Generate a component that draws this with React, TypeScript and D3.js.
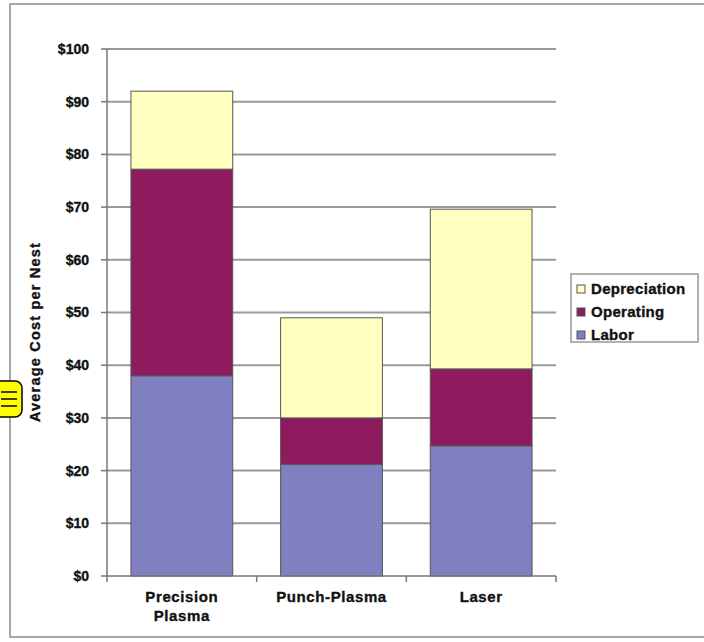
import React from "react";
import * as d3 from "d3";

const categories = ["Precision Plasma", "Punch-Plasma", "Laser"];
const categoryLines = [["Precision", "Plasma"], ["Punch-Plasma"], ["Laser"]];
const seriesNames = ["Labor", "Operating", "Depreciation"];
const labor = [38, 21.2, 24.7];
const operating = [39.2, 8.8, 14.6];
const depreciation = [14.8, 19, 30.3];
const yTicks = [0, 10, 20, 30, 40, 50, 60, 70, 80, 90, 100];
const colors = ["#8080C0", "#8E1B5E", "#FFFFC0"];
const legendOrder = ["Depreciation", "Operating", "Labor"];

export default function App() {
  const W = 704, H = 642;
  const left = 107, right = 556, top = 49, bottom = 576;
  const x = d3.scaleBand().domain(categories).range([left, right]).paddingInner(0.32).paddingOuter(0.16);
  const xOuter = d3.scaleBand().domain(categories).range([left, right]);
  const y = d3.scaleLinear().domain([0, 100]).range([bottom, top]);
  const table = categories.map((c, i) => ({ cat: c, Labor: labor[i], Operating: operating[i], Depreciation: depreciation[i] }));
  const stacked = d3.stack<any>().keys(seriesNames)(table);
  const font = "'Liberation Sans', Arial, sans-serif";
  const colorOf = (n: string) => colors[seriesNames.indexOf(n)];
  const textProps = { fontWeight: "bold", fill: "#111", stroke: "#111", strokeWidth: 0.35 } as any;
  return (
    <svg width={W} height={H} style={{ position: "absolute", left: 0, top: 0, background: "#fff" }} fontFamily={font}>
      <rect x={10} y={4} width={720} height={633} fill="#fff" stroke="#8a8a8a" strokeWidth={1.5} />
      {/* gridlines */}
      {yTicks.map((t) => (
        <g key={t}>
          {t > 0 && <line x1={left} x2={right} y1={y(t)} y2={y(t)} stroke="#999" strokeWidth={2} />}
          <line x1={left - 6} x2={left} y1={y(t)} y2={y(t)} stroke="#777" strokeWidth={1.5} />
          <text x={left - 18} y={y(t)} dy="0.35em" textAnchor="end" fontSize={14} {...textProps}>
            {"$" + t}
          </text>
        </g>
      ))}
      {/* bars */}
      {stacked.map((s) => (
        <g key={s.key}>
          {s.map((d: any, i: number) => (
            <rect
              key={i}
              x={x(categories[i])!}
              width={x.bandwidth()}
              y={y(d[1])}
              height={y(d[0]) - y(d[1])}
              fill={colorOf(s.key)}
              stroke="#555"
              strokeWidth={1}
            />
          ))}
        </g>
      ))}
      {/* axes */}
      <line x1={left} x2={left} y1={top} y2={bottom} stroke="#777" strokeWidth={1.5} />
      <line x1={left} x2={right} y1={bottom} y2={bottom} stroke="#777" strokeWidth={1.5} />
      {categories.map((c, i) => (
        <line key={"t" + i} x1={xOuter(c)!} x2={xOuter(c)!} y1={bottom} y2={bottom + 6} stroke="#777" strokeWidth={1.5} />
      ))}
      <line x1={right} x2={right} y1={bottom} y2={bottom + 6} stroke="#777" strokeWidth={1.5} />
      {categories.map((c, i) => (
        <text key={"c" + i} x={xOuter(c)! + xOuter.bandwidth() / 2} y={bottom + 26} textAnchor="middle" fontSize={15} letterSpacing={0.6} {...textProps}>
          {categoryLines[i].map((l, j) => (
            <tspan key={j} x={xOuter(c)! + xOuter.bandwidth() / 2} dy={j === 0 ? 0 : 19}>
              {l}
            </tspan>
          ))}
        </text>
      ))}
      {/* y label */}
      <text transform="translate(40,332) rotate(-90)" textAnchor="middle" fontSize={14.5} letterSpacing={1.2} {...textProps}>
        Average Cost per Nest
      </text>
      {/* legend */}
      <rect x={571} y={274} width={127} height={68} fill="#fff" stroke="#999" strokeWidth={1.5} />
      {legendOrder.map((n, i) => (
        <g key={n}>
          <rect x={577} y={285 + i * 23} width={8} height={8} fill={colorOf(n)} stroke="#555" strokeWidth={1} />
          <text x={591} y={289 + i * 23} dy="0.35em" fontSize={15} letterSpacing={0.3} {...textProps}>
            {n}
          </text>
        </g>
      ))}
      {/* note icon */}
      <rect x={-10} y={381} width={32} height={36} rx={7} fill="#FFFF00" stroke="#000" strokeWidth={1.5} />
      {[392, 399, 406].map((yy) => (
        <line key={yy} x1={1} x2={17} y1={yy} y2={yy} stroke="#000" strokeWidth={1.5} />
      ))}
    </svg>
  );
}
